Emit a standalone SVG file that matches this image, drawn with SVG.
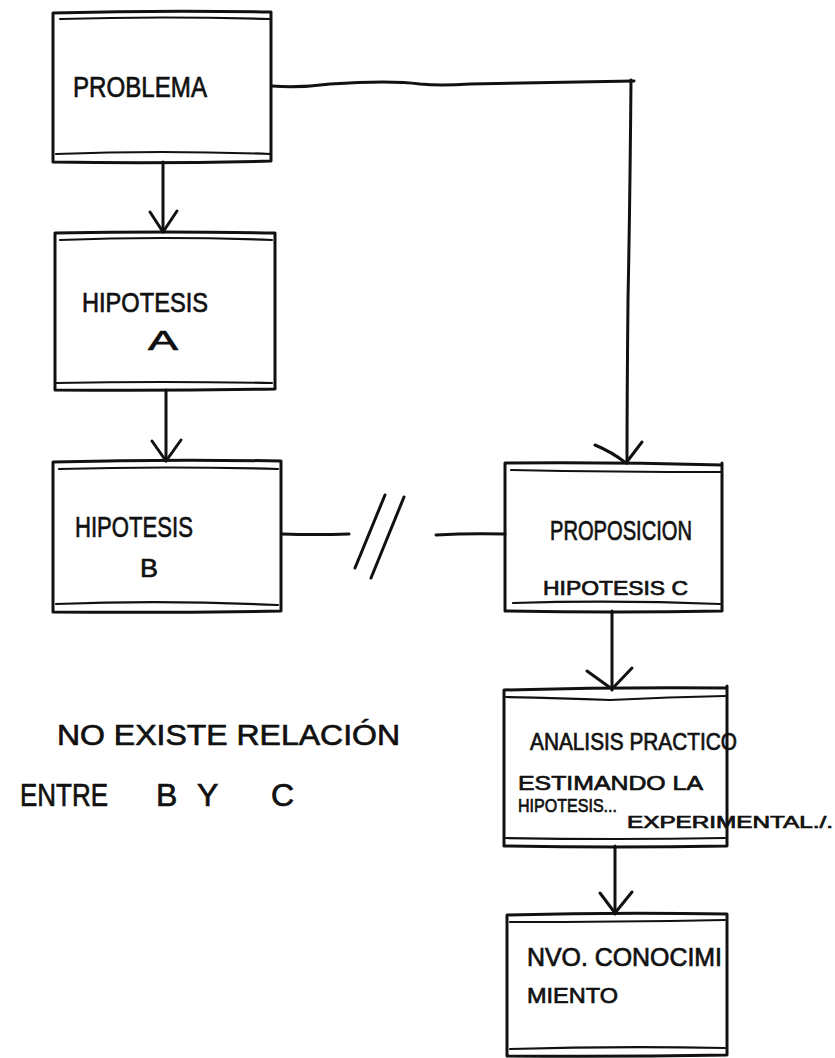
<svg xmlns="http://www.w3.org/2000/svg" width="835" height="1058" viewBox="0 0 835 1058">
  <style>
    .ink { fill: none; stroke: #111; stroke-width: 3; stroke-linecap: round; stroke-linejoin: round; }
    .thin { fill: none; stroke: #111; stroke-width: 2.2; stroke-linecap: round; }
    .lbl { font-family: "Liberation Sans", "DejaVu Sans", sans-serif; fill: #111; stroke: #111; stroke-width: 0.7; }
  </style>
  <rect width="835" height="1058" fill="#fff"/>

  <!-- connectors -->
  <g id="connectors">
    <!-- PROBLEMA to HIPOTESIS A -->
    <path class="ink" d="M163 162 L163 232"/>
    <path class="ink" d="M150 212 L163 232 L177 211"/>
    <!-- HIPOTESIS A to HIPOTESIS B -->
    <path class="ink" d="M166 390 L166 461"/>
    <path class="ink" d="M152 441 L166 461 L181 440"/>
    <!-- PROBLEMA to PROPOSICION -->
    <path class="ink" d="M272 86 Q300 88 330 84 Q390 80 420 84 Q440 86 470 84 Q560 82 634 81"/>
    <path class="ink" d="M631 80 Q630 200 628 300 Q627 400 627 463"/>
    <path class="ink" d="M595 445 Q612 452 626 463 L642 442"/>
    <!-- broken relation between B and C -->
    <path class="ink" d="M282 534 Q315 535 349 534"/>
    <path class="ink" d="M385 495 L355 568"/>
    <path class="ink" d="M404 497 L371 578"/>
    <path class="ink" d="M436 535 Q470 533 505 534"/>
    <!-- PROPOSICION to ANALISIS -->
    <path class="ink" d="M612 611 L612 690"/>
    <path class="ink" d="M587 671 L612 689 L632 668"/>
    <!-- ANALISIS to NVO. CONOCIMIENTO -->
    <path class="ink" d="M615 846 L615 914"/>
    <path class="ink" d="M600 893 L615 913 L632 892"/>
  </g>

  <g id="problema">
    <path class="ink" d="M53 13 L53 162 M53 162 Q160 164 271 161 L271 12 M53 13 Q160 10 271 12"/>
    <path class="thin" d="M60 19 Q160 16 270 19"/>
    <path class="thin" d="M56 154 Q160 150 270 154"/>
    <text class="lbl" x="73" y="97" font-size="30" textLength="134" lengthAdjust="spacingAndGlyphs">PROBLEMA</text>
  </g>

  <g id="hipotesis-a">
    <path class="ink" d="M55 233 L55 390 M55 390 Q165 391 275 389 L275 233 M55 233 Q165 231 275 233"/>
    <path class="thin" d="M60 240 Q160 236 272 240"/>
    <path class="thin" d="M56 383 Q160 381 272 383"/>
    <text class="lbl" x="82" y="312" font-size="28" textLength="126" lengthAdjust="spacingAndGlyphs">HIPOTESIS</text>
    <text class="lbl" x="148" y="350" font-size="28" textLength="30" lengthAdjust="spacingAndGlyphs">A</text>
  </g>

  <g id="hipotesis-b">
    <path class="ink" d="M53 462 L53 612 M53 612 Q165 613 281 611 L281 461 M53 462 Q165 459 281 461"/>
    <path class="thin" d="M59 469 Q165 466 278 469"/>
    <path class="thin" d="M56 604 Q165 600 278 605"/>
    <text class="lbl" x="75" y="537" font-size="30" textLength="118" lengthAdjust="spacingAndGlyphs">HIPOTESIS</text>
    <text class="lbl" x="140" y="577" font-size="26" textLength="18" lengthAdjust="spacingAndGlyphs">B</text>
  </g>

  <g id="proposicion">
    <path class="ink" d="M505 463 L505 611 M505 611 Q615 613 722 611 L722 463 M505 463 Q615 462 722 465"/>
    <path class="thin" d="M511 470 Q615 472 722 472"/>
    <path class="thin" d="M513 603 Q615 600 720 604"/>
    <text class="lbl" x="550" y="540" font-size="28" textLength="142" lengthAdjust="spacingAndGlyphs">PROPOSICION</text>
    <text class="lbl" x="543" y="595" font-size="20" textLength="145" lengthAdjust="spacingAndGlyphs">HIPOTESIS  C</text>
  </g>

  <g id="analisis">
    <path class="ink" d="M504 690 L504 846 M504 846 Q615 848 727 846 L727 686 M504 690 Q615 687 727 688"/>
    <path class="thin" d="M506 697 Q560 698 610 700 Q670 697 725 696"/>
    <path class="thin" d="M506 838 Q615 840 725 838"/>
    <text class="lbl" x="530" y="750" font-size="24" textLength="207" lengthAdjust="spacingAndGlyphs">ANALISIS PRACTICO</text>
    <text class="lbl" x="518" y="790" font-size="21" textLength="185" lengthAdjust="spacingAndGlyphs">ESTIMANDO LA</text>
    <text class="lbl" x="518" y="812" font-size="19" textLength="99" lengthAdjust="spacingAndGlyphs">HIPOTESIS...</text>
    <text class="lbl" x="627" y="828" font-size="16" textLength="206" lengthAdjust="spacingAndGlyphs">EXPERIMENTAL./.</text>
  </g>

  <g id="nvo-conocimiento">
    <path class="ink" d="M507 915 L507 1056 M507 1056 Q615 1057 727 1055 L727 914 M507 915 Q615 912 727 914"/>
    <path class="thin" d="M510 922 Q615 922 725 920"/>
    <path class="thin" d="M510 1049 Q615 1046 725 1048"/>
    <text class="lbl" x="527" y="966" font-size="25" textLength="195" lengthAdjust="spacingAndGlyphs">NVO. CONOCIMI</text>
    <text class="lbl" x="527" y="1003" font-size="22" textLength="91" lengthAdjust="spacingAndGlyphs">MIENTO</text>
  </g>

  <g id="nota">
    <text class="lbl" x="57" y="745" font-size="30" textLength="343" lengthAdjust="spacingAndGlyphs">NO  EXISTE  RELACIÓN</text>
    <text class="lbl" y="806" font-size="32"><tspan x="20" textLength="88" lengthAdjust="spacingAndGlyphs">ENTRE</tspan><tspan x="156">B</tspan><tspan x="197">Y</tspan><tspan x="271">C</tspan></text>
  </g>
</svg>
